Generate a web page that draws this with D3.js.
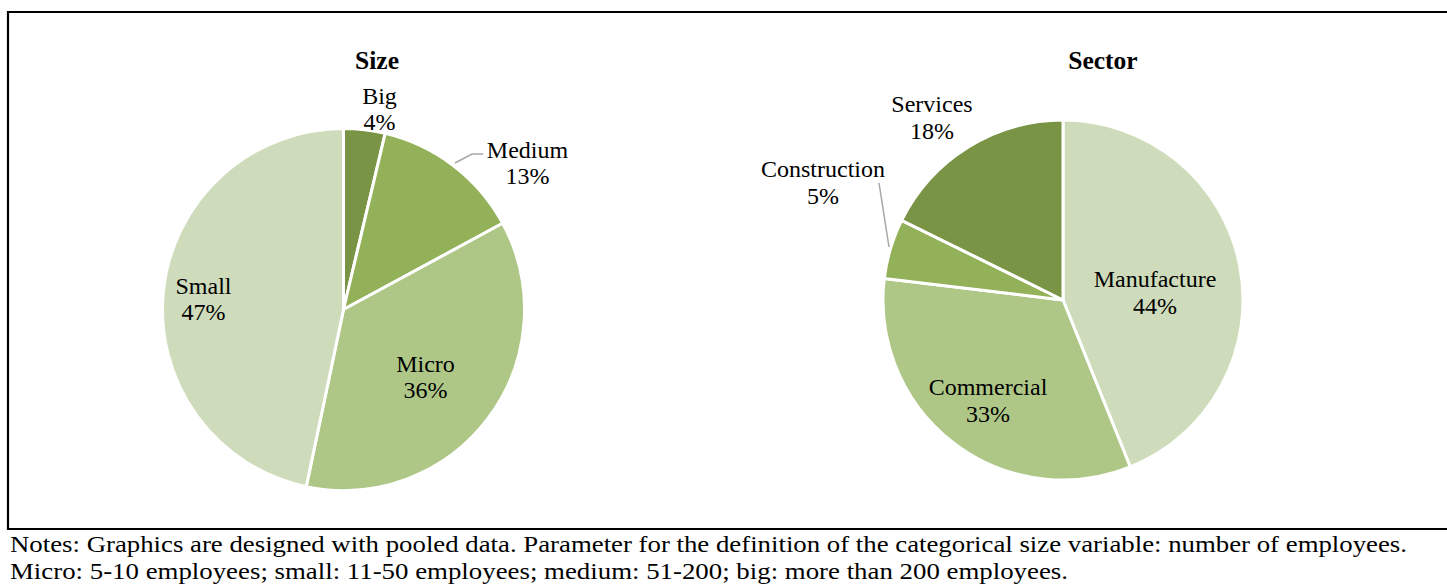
<!DOCTYPE html>
<html>
<head>
<meta charset="utf-8">
<script src="https://cdn.jsdelivr.net/npm/d3@7"></script>
</head>
<body style="margin:0">
<script>
// datos de los dos pasteles
sizeCats   = ['Big', 'Medium', 'Micro', 'Small']
sizeVals   = [3.7, 13.4, 36.2, 46.7]
sectorCats = ['Manufacture', 'Commercial', 'Construction', 'Services']
sectorVals = [43.9, 33.0, 5.4, 17.7]
notas = [
  'Notes: Graphics are designed with pooled data. Parameter for the definition of the categorical size variable: number of employees.',
  'Micro: 5-10 employees; small: 11-50 employees; medium: 51-200; big: more than 200 employees.'
]
// ancho de cada linea de notas
notasAncho = [1397, 1058]

ancho_total = 1447
alto_total  = 585
fuente = '"Liberation Serif"'

// colores verdes (del mas oscuro al mas claro)
colSize   = d3.scaleOrdinal().domain(sizeCats).range(['#7a9445', '#93b158', '#afc786', '#cfdcbb'])
colSector = d3.scaleOrdinal().domain(sectorCats).range(['#cfdcbb', '#afc786', '#93b158', '#7a9445'])

svg = d3.select('body').append('svg')
        .attr('width', ancho_total)
        .attr('height', alto_total)
        .style('display', 'block')

// marco
svg.append('path')
   .attr('d', `M${ancho_total + 5},12 H8 V529 H${ancho_total + 5}`)
   .attr('fill', 'none')
   .attr('stroke', '#000')
   .attr('stroke-width', 2.2)

// posicion de etiquetas relativa al centro del pastel
labelsSize = {
  Big:    [36, -201],
  Medium: [184, -147],
  Micro:  [82, 67],
  Small:  [-140, -11]
}
labelsSector = {
  Manufacture:  [92, -8],
  Commercial:   [-75, 100],
  Construction: [-240, -118],
  Services:     [-131, -183]
}

function pastel(cx, cy, r, titulo, cats, vals, color, labels, guias) {
  let g = svg.append('g').attr('transform', `translate(${cx}, ${cy})`)

  let datos = cats.map((c, i) => ({ cat: c, val: vals[i] }))
  let pie = d3.pie().sort(null).value(d => d.val)
  let arc = d3.arc().innerRadius(0).outerRadius(r)

  g.selectAll('path.slice')
   .data(pie(datos))
   .join('path')
   .attr('class', 'slice')
   .attr('d', arc)
   .attr('fill', d => color(d.data.cat))
   .attr('stroke', '#fff')
   .attr('stroke-width', 3)
   .attr('stroke-linejoin', 'round')

  // lineas guia
  guias.forEach(p => {
    g.append('path')
     .attr('d', d3.line()(p))
     .attr('fill', 'none')
     .attr('stroke', '#a6a6a6')
     .attr('stroke-width', 1.5)
  })

  // etiquetas
  let lab = g.selectAll('text.lab')
   .data(datos)
   .join('text')
   .attr('class', 'lab')
   .attr('text-anchor', 'middle')
   .style('font-family', fuente)
   .style('font-size', '24px')
   .attr('transform', d => `translate(${labels[d.cat][0]}, ${labels[d.cat][1]})`)
  lab.append('tspan').attr('x', 0).attr('y', -5).text(d => d.cat)
  lab.append('tspan').attr('x', 0).attr('y', 21.5).text(d => Math.round(d.val) + '%')

  // titulo
  svg.append('text')
     .attr('x', titulo[1])
     .attr('y', 69)
     .attr('text-anchor', 'middle')
     .style('font-family', fuente)
     .style('font-weight', 'bold')
     .style('font-size', '25.5px')
     .text(titulo[0])
}

pastel(343.5, 309.5, 181, ['Size', 377], sizeCats, sizeVals, colSize, labelsSize,
       [[[111.5, -146.5], [128.5, -155.5], [139.5, -155.5]]])
pastel(1063, 300, 180, ['Sector', 1103], sectorCats, sectorVals, colSector, labelsSector,
       [[[-184, -117], [-174, -53]]])

// notas
svg.selectAll('text.nota')
   .data(notas)
   .join('text')
   .attr('class', 'nota')
   .attr('x', 10)
   .attr('y', (d, i) => 552 + i * 26.5)
   .attr('textLength', (d, i) => notasAncho[i])
   .attr('lengthAdjust', 'spacingAndGlyphs')
   .style('font-family', fuente)
   .style('font-size', '23.5px')
   .text(d => d)
</script>
</body>
</html>
